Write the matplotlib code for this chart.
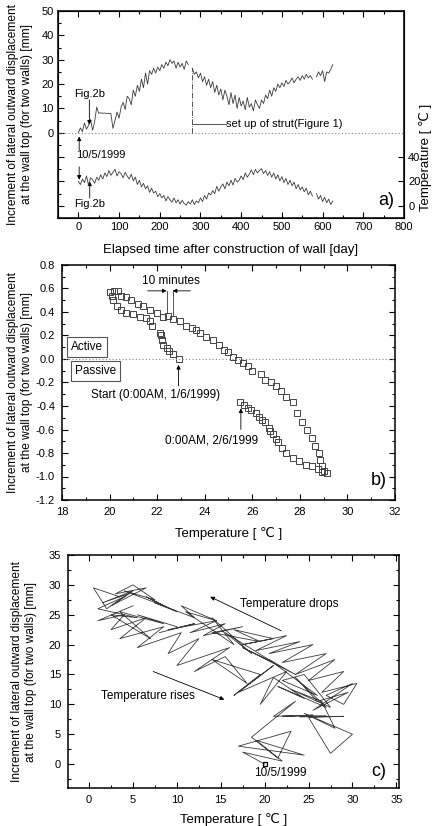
import numpy as np
import matplotlib
matplotlib.use('Agg')
import matplotlib.pyplot as plt
from matplotlib.ticker import MultipleLocator, FixedLocator, FuncFormatter

plt.rcParams['font.family'] = ['Liberation Sans', 'DejaVu Sans']

# ---------------- data: panel a (and c) ----------------
days = list(range(0, 630, 5))
disp = [0.0, 2.0, 0.5, 4.0, 1.5, 3.0, 5.5, 1.0, 4.5, 10.5,
        8.0, 8.2, 8.0, 8.1, 7.9, 8.0, 7.8, 1.8, 5.0, 8.5,
        6.0, 10.5, 12.5, 9.5, 15.0, 14.0, 11.5, 17.5, 15.0, 19.5,
        17.0, 22.0, 18.5, 24.5, 20.0, 25.5, 24.0, 26.5, 24.5, 27.0,
        25.5, 28.0, 26.5, 29.0, 27.5, 30.0, 28.5, 29.5, 26.5, 29.0,
        27.0, 28.5, 26.0, 29.5, 28.0, np.nan, 26.5, 24.0, 25.0, 22.5,
        24.5, 21.0, 23.0, 19.5, 22.0, 18.5, 21.0, 16.5, 19.5, 15.5,
        18.0, 13.5, 17.5, 15.0, 11.5, 16.5, 12.0, 15.5, 10.0, 14.5,
        11.0, 13.0, 9.5, 14.5, 10.5, 12.0, 9.0, 13.5, 11.5, 10.0,
        13.5, 12.0, 15.5, 14.0, 17.5, 15.0, 18.5, 17.0, 20.0, 18.5,
        20.5, 19.0, 21.5, 20.0, 21.0, 22.5, 20.5, 22.0, 23.0, 21.5,
        23.5, 22.0, 24.0, 22.5, 23.5, 22.0, np.nan, 23.0, 25.0, 23.5,
        25.5, 21.0, 25.0, 24.5, 26.0, 28.0]
temp = [20.0, 17.5, 22.0, 19.0, 24.5, 17.0, 23.0, 21.5, 18.5, 23.5,
        21.0, 25.5, 22.0, 27.0, 24.0, 29.0, 25.0, 27.5, 30.0, 24.5,
        28.0, 26.5, 23.0, 27.5, 24.5, 22.0, 26.0, 20.5, 23.5, 17.5,
        21.0, 15.5, 18.5, 14.0, 16.5, 11.0, 14.5, 10.5, 12.0, 7.5,
        10.0, 6.5, 8.5, 4.0, 7.5, 5.0, 3.0, 6.5, 2.5, 5.0,
        1.5, 4.5, 2.0, 0.5, 3.5, 1.5, 5.0, 1.0, 4.0, 2.5,
        6.5, 3.5, 8.5, 5.5, 10.5, 9.0, 12.5, 10.0, 16.0, 12.0,
        15.5, 18.0, 14.0, 19.5, 16.5, 21.0, 17.0, 22.5, 19.5, 21.0,
        24.5, 21.5, 27.0, 23.5, 26.0, 29.5, 25.5, 30.0, 27.0, 29.0,
        30.5, 26.5, 29.0, 25.0, 28.0, 23.5, 27.0, 22.0, 25.5, 20.5,
        24.0, 19.0, 22.5, 17.5, 21.0, 16.5, 19.5, 14.0, 17.5, 13.0,
        15.5, 11.5, 14.5, 9.0, 12.0, 8.0, np.nan, 10.0, 5.5, 8.5,
        3.5, 7.0, 2.5, 5.5, 1.0, 4.0]

# ---------------- data: panel b ----------------
b_temp = [22.9, 22.67, 22.5, 22.4, 22.25, 22.2, 22.15, 22.1, 21.8, 21.7,
          21.55, 21.3, 21.0, 20.7, 20.5, 20.3, 20.15, 20.1, 20.0, 20.2,
          20.35, 20.5, 20.7, 20.9, 21.2, 21.4, 21.7, 22.0, 22.25, 22.45,
          22.65, 22.95, 23.2, 23.45, 23.65, 23.8, 24.05, 24.35, 24.6, 24.8,
          25.0, 25.2, 25.4, 25.6, 25.8, 26.0, 26.35, 26.55, 26.8, 27.0,
          27.2, 27.4, 27.7, 27.9, 28.1, 28.3, 28.5, 28.65, 28.8, 28.85,
          28.95, 29.0, 29.15, 28.95, 28.75, 28.5, 28.25, 27.95, 27.7, 27.4,
          27.25, 27.1, 27.0, 26.85, 26.75, 26.7, 26.55, 26.4, 26.3, 26.15,
          25.95, 25.8, 25.65, 25.5]
b_disp = [0.0, 0.045, 0.065, 0.09, 0.12, 0.16, 0.2, 0.22, 0.28, 0.32,
          0.35, 0.36, 0.38, 0.39, 0.42, 0.45, 0.5, 0.54, 0.57, 0.58,
          0.58, 0.54, 0.53, 0.5, 0.47, 0.45, 0.42, 0.39, 0.36, 0.37,
          0.34, 0.32, 0.28, 0.26, 0.25, 0.22, 0.19, 0.16, 0.12, 0.08,
          0.06, 0.02, -0.005, -0.035, -0.06, -0.1, -0.13, -0.18, -0.2, -0.23,
          -0.27, -0.32, -0.37, -0.46, -0.54, -0.6, -0.67, -0.74, -0.8, -0.86,
          -0.91, -0.95, -0.97, -0.96, -0.94, -0.91, -0.9, -0.87, -0.84, -0.8,
          -0.76, -0.71, -0.68, -0.64, -0.61, -0.59, -0.54, -0.52, -0.49, -0.46,
          -0.43, -0.42, -0.39, -0.37]

ylab = "Increment of lateral outward displacement\nat the wall top (for two walls) [mm]"
LC = '#3a3a3a'
W, H = 435, 826

fig = plt.figure(figsize=(W / 100, H / 100), dpi=100)


def pax(l, r, t, b):
    return fig.add_axes([l / W, (H - b) / H, (r - l) / W, (b - t) / H])


def style(ax, pad=3):
    for s in ax.spines.values():
        s.set_linewidth(1.1)
    ax.tick_params(which='both', direction='in', top=True, right=True,
                   labelsize=8, pad=pad, width=0.8)
    ax.tick_params(which='major', length=4)
    ax.tick_params(which='minor', length=2.5)


arrow = dict(arrowstyle='-|>', lw=0.6, color='k', mutation_scale=6,
             shrinkA=0, shrinkB=0)

# ---------------- panel a ----------------
ax = pax(58, 404, 11, 218)
ax.plot(days, disp, color=LC, lw=0.6)
ax.axhline(0, color='#888888', lw=0.8, ls=(0, (1, 2)))
ax.set_xlim(-50, 800)
ax.set_ylim(-35, 50)
ax.xaxis.set_major_locator(MultipleLocator(100))
ax.xaxis.set_minor_locator(MultipleLocator(50))
ax.yaxis.set_major_locator(FixedLocator([-30, -20, -10, 0, 10, 20, 30, 40, 50]))
ax.yaxis.set_minor_locator(MultipleLocator(5))
ax.yaxis.set_major_formatter(FuncFormatter(lambda v, p: '%d' % v if v >= 0 else ''))
style(ax)
ax.set_xlabel('Elapsed time after construction of wall [day]', fontsize=9.5)
ax.xaxis.set_label_coords(0.5, -0.125)
ax.set_ylabel(ylab, fontsize=8.6, linespacing=1.25)
ax.yaxis.set_label_coords(-0.072, 0.5)

ax.plot([278, 278], [0, 26.6], color=LC, lw=0.6, ls='-.')
ax.plot([279, 362], [3.7, 3.7], color=LC, lw=0.6)
ax.text(363, 3.7, 'set up of strut(Figure 1)', fontsize=8, va='center', ha='left')
ax.text(27, 16, 'Fig.2b', fontsize=8, ha='center', va='center')
ax.annotate('', xy=(27, 3.3), xytext=(27, 13.5), arrowprops=arrow)
ax.text(-5, -9.3, '10/5/1999', fontsize=8, ha='left', va='center')
ax.annotate('', xy=(2, -1.5), xytext=(2, -7), arrowprops=arrow)
ax.annotate('', xy=(2, -19.3), xytext=(2, -14), arrowprops=arrow)
ax.text(27, -29.3, 'Fig.2b', fontsize=8, ha='center', va='center')
ax.annotate('', xy=(28, -20), xytext=(28, -26.8), arrowprops=arrow)
ax.text(757, -28, 'a)', fontsize=13, ha='center', va='center')

ax2 = ax.twinx()
ax2.plot(days, temp, color=LC, lw=0.6)
ax2.set_ylim(-10, 160)
ax2.set_yticks([0, 20, 40])
ax2.tick_params(direction='in', length=4, labelsize=8, pad=3, width=0.8)
ax2.set_ylabel('Temperature [ ℃ ]', fontsize=9.5)
ax2.yaxis.set_label_coords(1.043, 0.295)

# ---------------- panel b ----------------
bx = pax(62, 395, 265, 500)
bx.plot(b_temp, b_disp, ls='none', marker='s', ms=4.8, mfc='none',
        mec='#444444', mew=0.7)
bx.axhline(0, color='#888888', lw=0.8, ls=(0, (1, 2)))
bx.set_xlim(18, 32)
bx.set_ylim(-1.2, 0.8)
bx.xaxis.set_major_locator(MultipleLocator(2))
bx.xaxis.set_minor_locator(MultipleLocator(1))
bx.yaxis.set_major_locator(MultipleLocator(0.2))
bx.yaxis.set_minor_locator(MultipleLocator(0.1))
bx.yaxis.set_major_formatter(FuncFormatter(lambda v, p: '%.1f' % v if abs(v) > 1e-9 else '0.0'))
style(bx, pad=5)
bx.set_xlabel('Temperature [ ℃ ]', fontsize=9.5)
bx.xaxis.set_label_coords(0.5, -0.115)
bx.set_ylabel(ylab, fontsize=8.6, linespacing=1.25)
bx.yaxis.set_label_coords(-0.087, 0.5)

bx.text(22.6, 0.66, '10 minutes', fontsize=8.5, ha='center', va='center')
bx.annotate('', xy=(22.4, 0.58), xytext=(21.6, 0.58), arrowprops=arrow)
bx.annotate('', xy=(22.65, 0.58), xytext=(23.4, 0.58), arrowprops=arrow)
bx.plot([22.4, 22.4], [0.58, 0.39], color=LC, lw=0.6)
bx.plot([22.65, 22.65], [0.58, 0.375], color=LC, lw=0.6)
box = dict(boxstyle='square,pad=0.35', fc='white', ec='#555555', lw=0.8)
bx.text(19.05, 0.1, 'Active', fontsize=8.5, ha='center', va='center', bbox=box)
bx.text(19.4, -0.105, 'Passive', fontsize=8.5, ha='center', va='center', bbox=box)
bx.annotate('', xy=(22.9, -0.05), xytext=(22.9, -0.23), arrowprops=arrow)
bx.text(21.93, -0.305, 'Start (0:00AM, 1/6/1999)', fontsize=8.5, ha='center', va='center')
bx.annotate('', xy=(25.52, -0.42), xytext=(25.52, -0.6), arrowprops=arrow)
bx.text(24.27, -0.693, '0:00AM, 2/6/1999', fontsize=8.5, ha='center', va='center')
bx.text(31.33, -1.03, 'b)', fontsize=13, ha='center', va='center')

# ---------------- panel c ----------------
cx = pax(68, 399, 555, 788)
cx.plot(temp, disp, color=LC, lw=0.6)
cx.plot(temp[:1], disp[:1], ls='none', marker='s', ms=3.5, mfc='none', mec='k', mew=0.9)
cx.set_xlim(-2.4, 35.3)
cx.set_ylim(-4, 35)
cx.xaxis.set_major_locator(MultipleLocator(5))
cx.xaxis.set_minor_locator(MultipleLocator(2.5))
cx.yaxis.set_major_locator(MultipleLocator(5))
cx.yaxis.set_minor_locator(MultipleLocator(2.5))
style(cx, pad=5)
cx.set_xlabel('Temperature [ ℃ ]', fontsize=9.5)
cx.xaxis.set_label_coords(0.5, -0.107)
cx.set_ylabel(ylab, fontsize=8.6, linespacing=1.25)
cx.yaxis.set_label_coords(-0.094, 0.5)

cx.annotate('', xy=(13.8, 28.0), xytext=(21.9, 22.3), arrowprops=arrow)
cx.text(22.8, 26.8, 'Temperature drops', fontsize=8.5, ha='center', va='center')
cx.annotate('', xy=(15.4, 10.8), xytext=(7.3, 15.5), arrowprops=arrow)
cx.text(6.75, 11.4, 'Temperature rises', fontsize=8.5, ha='center', va='center')
cx.text(21.8, -1.5, '10/5/1999', fontsize=8.5, ha='center', va='center')
cx.text(33.0, -1.3, 'c)', fontsize=13, ha='center', va='center')

fig.savefig('out.png', dpi=100)
